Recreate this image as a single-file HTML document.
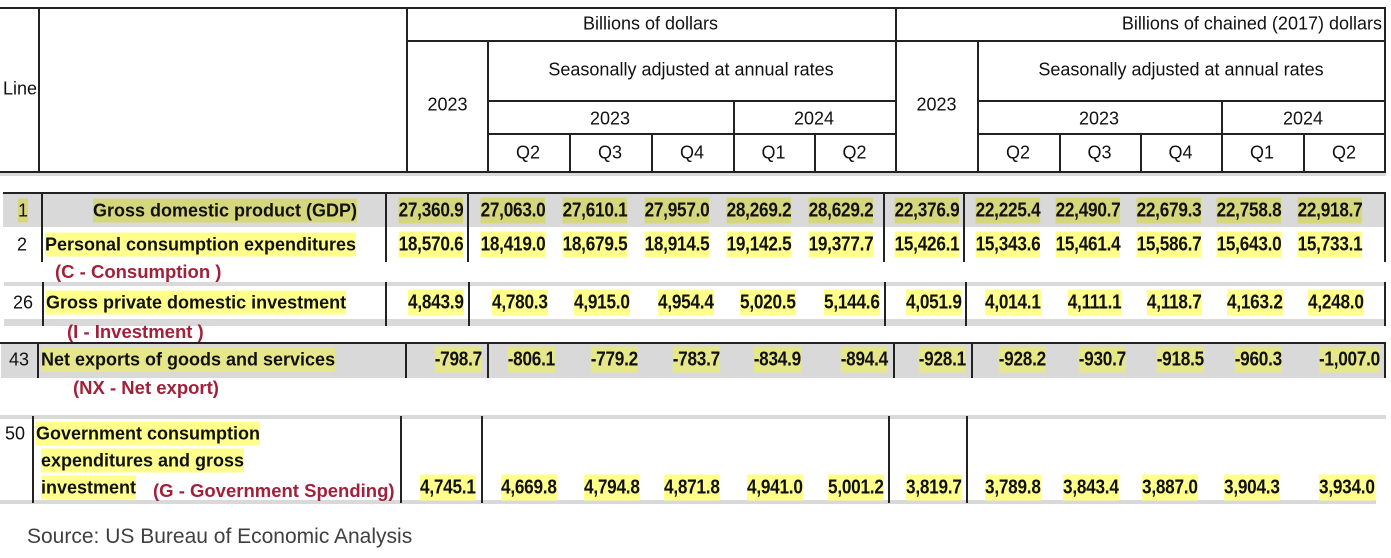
<!DOCTYPE html>
<html><head><meta charset="utf-8"><style>
body{margin:0;background:#fff;width:1391px;height:558px;position:relative;overflow:hidden;font-family:"Liberation Sans",Arial,sans-serif;color:#111}
.a{position:absolute}
.h{position:absolute;background:#222;height:2px}
.v{position:absolute;background:#222;width:2px}
.t{position:absolute;font-size:18px;text-align:center;transform:translateY(-50%);white-space:nowrap}
.n{position:absolute;font-size:20px;font-weight:bold;transform:translateY(-50%) scaleX(0.86);transform-origin:right center;white-space:nowrap;letter-spacing:-0.3px}
.n span,.lb span{background:#ffff8c;padding:2px 0}
.g .n span,.g .lb span{background:#d6d67c}
.nx .n span,.nx .lb span{background:#e6e68a}
.lb{position:absolute;font-size:18px;font-weight:bold;transform:translateY(-50%);white-space:nowrap}
.r{position:absolute;color:#a3203a;font-weight:bold;font-size:18.5px;transform:translateY(-50%);white-space:nowrap}
.gray{position:absolute;background:#d9d9d9}
</style></head><body>
<div class="h" style="left:0;top:7px;width:1386px"></div>
<div class="v" style="left:38px;top:7px;height:166px"></div>
<div class="v" style="left:406px;top:7px;height:166px"></div>
<div class="v" style="left:895px;top:7px;height:166px"></div>
<div class="v" style="left:1384px;top:7px;height:166px"></div>
<div class="h" style="left:406px;top:40px;width:980px"></div>
<div class="h" style="left:487px;top:100px;width:408px"></div>
<div class="h" style="left:977px;top:100px;width:408px"></div>
<div class="h" style="left:487px;top:133px;width:408px"></div>
<div class="h" style="left:977px;top:133px;width:408px"></div>
<div class="v" style="left:487px;top:40px;height:133px"></div>
<div class="v" style="left:977px;top:40px;height:133px"></div>
<div class="v" style="left:733px;top:100px;height:73px"></div>
<div class="v" style="left:1221px;top:100px;height:73px"></div>
<div class="v" style="left:569px;top:133px;height:40px"></div>
<div class="v" style="left:651px;top:133px;height:40px"></div>
<div class="v" style="left:814px;top:133px;height:40px"></div>
<div class="v" style="left:1059px;top:133px;height:40px"></div>
<div class="v" style="left:1140px;top:133px;height:40px"></div>
<div class="v" style="left:1303px;top:133px;height:40px"></div>
<div class="h" style="left:0;top:171px;width:1386px"></div>
<div class="gray" style="left:0;top:173px;width:1386px;height:3px"></div>
<div class="t" style="left:3px;top:89px">Line</div>
<div class="t" style="left:406px;width:489px;top:24px">Billions of dollars</div>
<div class="t" style="right:9px;top:24px">Billions of chained (2017) dollars</div>
<div class="t" style="left:487px;width:408px;top:70px">Seasonally adjusted at annual rates</div>
<div class="t" style="left:977px;width:408px;top:70px">Seasonally adjusted at annual rates</div>
<div class="t" style="left:406px;width:83px;top:105px">2023</div>
<div class="t" style="left:895px;width:83px;top:105px">2023</div>
<div class="t" style="left:487px;width:246px;top:119px">2023</div>
<div class="t" style="left:733px;width:162px;top:119px">2024</div>
<div class="t" style="left:977px;width:244px;top:119px">2023</div>
<div class="t" style="left:1221px;width:164px;top:119px">2024</div>
<div class="t" style="left:487px;width:82px;top:153px">Q2</div>
<div class="t" style="left:569px;width:82px;top:153px">Q3</div>
<div class="t" style="left:651px;width:82px;top:153px">Q4</div>
<div class="t" style="left:733px;width:81px;top:153px">Q1</div>
<div class="t" style="left:814px;width:81px;top:153px">Q2</div>
<div class="t" style="left:977px;width:82px;top:153px">Q2</div>
<div class="t" style="left:1059px;width:81px;top:153px">Q3</div>
<div class="t" style="left:1140px;width:81px;top:153px">Q4</div>
<div class="t" style="left:1221px;width:82px;top:153px">Q1</div>
<div class="t" style="left:1303px;width:82px;top:153px">Q2</div>

<div class="gray" style="left:3px;top:193px;width:1382px;height:34px"></div>
<div class="h" style="left:3px;top:192px;width:1382px"></div>
<div class="v" style="left:41px;top:192px;height:70px"></div>
<div class="v" style="left:385px;top:192px;height:70px"></div>
<div class="v" style="left:467px;top:192px;height:70px"></div>
<div class="v" style="left:883px;top:192px;height:70px"></div>
<div class="v" style="left:963px;top:192px;height:70px"></div>
<div class="v" style="left:1384px;top:192px;height:70px"></div>
<div class="g">
<div class="lb" style="left:18px;top:211px;font-weight:normal"><span>1</span></div>
<div class="lb" style="left:93px;top:211px"><span>Gross domestic product (GDP)</span></div>
<div class="n" style="right:928px;top:211px"><span>27,360.9</span></div>
<div class="n" style="right:846px;top:211px"><span>27,063.0</span></div>
<div class="n" style="right:764px;top:211px"><span>27,610.1</span></div>
<div class="n" style="right:682px;top:211px"><span>27,957.0</span></div>
<div class="n" style="right:600px;top:211px"><span>28,269.2</span></div>
<div class="n" style="right:518px;top:211px"><span>28,629.2</span></div>
<div class="n" style="right:432px;top:211px"><span>22,376.9</span></div>
<div class="n" style="right:351px;top:211px"><span>22,225.4</span></div>
<div class="n" style="right:271px;top:211px"><span>22,490.7</span></div>
<div class="n" style="right:190px;top:211px"><span>22,679.3</span></div>
<div class="n" style="right:110px;top:211px"><span>22,758.8</span></div>
<div class="n" style="right:29px;top:211px"><span>22,918.7</span></div>
</div>
<div class="lb" style="left:17px;top:245px;font-weight:normal">2</div>
<div class="lb" style="left:45px;top:245px"><span>Personal consumption expenditures</span></div>
<div class="n" style="right:928px;top:245px"><span>18,570.6</span></div>
<div class="n" style="right:846px;top:245px"><span>18,419.0</span></div>
<div class="n" style="right:764px;top:245px"><span>18,679.5</span></div>
<div class="n" style="right:682px;top:245px"><span>18,914.5</span></div>
<div class="n" style="right:600px;top:245px"><span>19,142.5</span></div>
<div class="n" style="right:518px;top:245px"><span>19,377.7</span></div>
<div class="n" style="right:432px;top:245px"><span>15,426.1</span></div>
<div class="n" style="right:351px;top:245px"><span>15,343.6</span></div>
<div class="n" style="right:271px;top:245px"><span>15,461.4</span></div>
<div class="n" style="right:190px;top:245px"><span>15,586.7</span></div>
<div class="n" style="right:110px;top:245px"><span>15,643.0</span></div>
<div class="n" style="right:29px;top:245px"><span>15,733.1</span></div>
<div class="r" style="left:55px;top:272px">(C - Consumption )</div>

<div class="gray" style="left:4px;top:282px;width:1382px;height:4px"></div>
<div class="gray" style="left:4px;top:319px;width:1382px;height:7px"></div>
<div class="v" style="left:42px;top:282px;height:44px"></div>
<div class="v" style="left:385px;top:282px;height:44px"></div>
<div class="v" style="left:468px;top:282px;height:44px"></div>
<div class="v" style="left:884px;top:282px;height:44px"></div>
<div class="v" style="left:965px;top:282px;height:44px"></div>
<div class="v" style="left:1384px;top:282px;height:44px"></div>
<div class="lb" style="left:13px;top:303px;font-weight:normal">26</div>
<div class="lb" style="left:46px;top:303px"><span>Gross private domestic investment</span></div>
<div class="n" style="right:927px;top:303px"><span>4,843.9</span></div>
<div class="n" style="right:843px;top:303px"><span>4,780.3</span></div>
<div class="n" style="right:761px;top:303px"><span>4,915.0</span></div>
<div class="n" style="right:677px;top:303px"><span>4,954.4</span></div>
<div class="n" style="right:595px;top:303px"><span>5,020.5</span></div>
<div class="n" style="right:511px;top:303px"><span>5,144.6</span></div>
<div class="n" style="right:429px;top:303px"><span>4,051.9</span></div>
<div class="n" style="right:350px;top:303px"><span>4,014.1</span></div>
<div class="n" style="right:270px;top:303px"><span>4,111.1</span></div>
<div class="n" style="right:189px;top:303px"><span>4,118.7</span></div>
<div class="n" style="right:108px;top:303px"><span>4,163.2</span></div>
<div class="n" style="right:27px;top:303px"><span>4,248.0</span></div>
<div class="r" style="left:67px;top:332px">(I - Investment )</div>

<div class="gray" style="left:1px;top:343px;width:1385px;height:35px"></div>
<div class="h" style="left:0;top:342px;width:1386px"></div>
<div class="v" style="left:37px;top:342px;height:36px"></div>
<div class="v" style="left:405px;top:342px;height:36px"></div>
<div class="v" style="left:487px;top:342px;height:36px"></div>
<div class="v" style="left:893px;top:342px;height:36px"></div>
<div class="v" style="left:971px;top:342px;height:36px"></div>
<div class="v" style="left:1384px;top:342px;height:36px"></div>
<div class="nx">
<div class="lb" style="left:9px;top:360px;font-weight:normal">43</div>
<div class="lb" style="left:41px;top:360px"><span>Net exports of goods and services</span></div>
<div class="n" style="right:909px;top:360px"><span>-798.7</span></div>
<div class="n" style="right:836px;top:360px"><span>-806.1</span></div>
<div class="n" style="right:753px;top:360px"><span>-779.2</span></div>
<div class="n" style="right:671px;top:360px"><span>-783.7</span></div>
<div class="n" style="right:590px;top:360px"><span>-834.9</span></div>
<div class="n" style="right:503px;top:360px"><span>-894.4</span></div>
<div class="n" style="right:425px;top:360px"><span>-928.1</span></div>
<div class="n" style="right:345px;top:360px"><span>-928.2</span></div>
<div class="n" style="right:265px;top:360px"><span>-930.7</span></div>
<div class="n" style="right:187px;top:360px"><span>-918.5</span></div>
<div class="n" style="right:109px;top:360px"><span>-960.3</span></div>
<div class="n" style="right:11px;top:360px"><span>-1,007.0</span></div>
</div>
<div class="r" style="left:73px;top:388px">(NX - Net export)</div>

<div class="gray" style="left:0;top:415px;width:1386px;height:4px"></div>
<div class="gray" style="left:0;top:500px;width:1376px;height:4px"></div>
<div class="v" style="left:32px;top:416px;height:87px"></div>
<div class="v" style="left:400px;top:416px;height:87px"></div>
<div class="v" style="left:481px;top:416px;height:87px"></div>
<div class="v" style="left:888px;top:416px;height:87px"></div>
<div class="v" style="left:966px;top:416px;height:87px"></div>
<div class="lb" style="left:5px;top:434px;font-weight:normal">50</div>
<div class="lb" style="left:36px;top:434px"><span>Government consumption</span></div>
<div class="lb" style="left:41px;top:461px"><span>expenditures and gross</span></div>
<div class="lb" style="left:41px;top:488px"><span>investment</span></div>
<div class="r" style="left:153px;top:491px">(G - Government Spending)</div>
<div class="n" style="right:915px;top:488px"><span>4,745.1</span></div>
<div class="n" style="right:834px;top:488px"><span>4,669.8</span></div>
<div class="n" style="right:751px;top:488px"><span>4,794.8</span></div>
<div class="n" style="right:671px;top:488px"><span>4,871.8</span></div>
<div class="n" style="right:588px;top:488px"><span>4,941.0</span></div>
<div class="n" style="right:507px;top:488px"><span>5,001.2</span></div>
<div class="n" style="right:429px;top:488px"><span>3,819.7</span></div>
<div class="n" style="right:350px;top:488px"><span>3,789.8</span></div>
<div class="n" style="right:272px;top:488px"><span>3,843.4</span></div>
<div class="n" style="right:193px;top:488px"><span>3,887.0</span></div>
<div class="n" style="right:111px;top:488px"><span>3,904.3</span></div>
<div class="n" style="right:16px;top:488px"><span>3,934.0</span></div>

<div class="a" style="left:27px;top:525px;font-size:21px;color:#404040">Source: US Bureau of Economic Analysis</div>
</body></html>
